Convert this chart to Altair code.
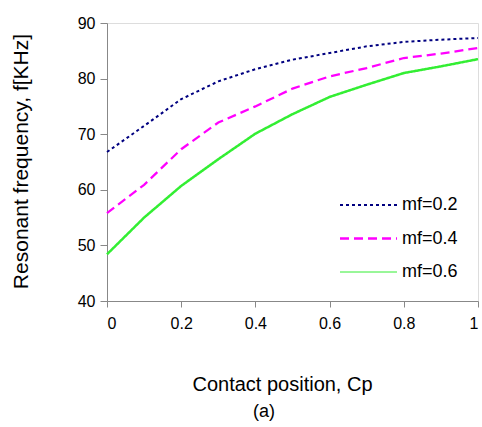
import altair as alt
import pandas as pd

# ---- data ----
cp = [0.0, 0.1, 0.2, 0.3, 0.4, 0.5, 0.6, 0.7, 0.8, 0.9, 1.0]
mf02 = [66.8, 71.5, 76.3, 79.5, 81.7, 83.4, 84.6, 85.8, 86.6, 87.0, 87.3]
mf04 = [55.8, 60.9, 67.3, 72.1, 75.0, 78.2, 80.4, 81.9, 83.7, 84.5, 85.5]
mf06 = [48.4, 55.0, 60.7, 65.5, 70.1, 73.6, 76.7, 78.9, 81.0, 82.2, 83.5]
series_names = ["mf=0.2", "mf=0.4", "mf=0.6"]
x_ticks = [0, 0.2, 0.4, 0.6, 0.8, 1]
y_ticks = [40, 50, 60, 70, 80, 90]

colors = ["#000080", "#FF00FF", "#33EE33"]
dashes = [[3, 3], [9, 5], [1, 0]]
widths = [2, 2.5, 1]

rows = []
for name, vals in zip(series_names, [mf02, mf04, mf06]):
    for c, v in zip(cp, vals):
        rows.append({"Cp": c, "f": v, "series": name})
df = pd.DataFrame(rows)

FONT = "Liberation Sans"

lines = alt.Chart(df).mark_line().encode(
    x=alt.X("Cp:Q", scale=alt.Scale(domain=[0, 1], nice=False),
            axis=alt.Axis(values=x_ticks, format="~g", title="Contact position, Cp",
                          grid=False, tickSize=6, labelPadding=8, labelFontSize=16,
                          titleFontSize=20, titleFontWeight="normal",
                          titleX=175, titleY=83, titleBaseline="middle", titleAlign="center")),
    y=alt.Y("f:Q", scale=alt.Scale(domain=[40, 90], nice=False),
            axis=alt.Axis(values=y_ticks, title="Resonant frequency, f[KHz]",
                          grid=False, tickSize=7, labelPadding=5, labelFontSize=16,
                          titleFontSize=21, titleFontWeight="normal",
                          titleX=-86, titleY=138, titleBaseline="middle",
                          titleAlign="center", titleAngle=270)),
    color=alt.Color("series:N", scale=alt.Scale(domain=series_names, range=colors), legend=None),
    strokeDash=alt.StrokeDash("series:N", scale=alt.Scale(domain=series_names, range=dashes), legend=None),
    strokeWidth=alt.StrokeWidth("series:N", scale=alt.Scale(domain=series_names, range=widths), legend=None),
)

layers = [lines]
for i, name in enumerate(series_names):
    ldf = pd.DataFrame({"s": [name]})
    y = 182 + 33.5 * i
    layers.append(
        alt.Chart(ldf).mark_rule(color=colors[i], strokeDash=dashes[i], strokeWidth=widths[i]).encode(
            x=alt.value(233), x2=alt.value(290), y=alt.value(y))
    )
    layers.append(
        alt.Chart(ldf).mark_text(align="left", baseline="middle", fontSize=18, font=FONT, color="black").encode(
            x=alt.value(295), y=alt.value(y), text="s:N")
    )

caption = alt.Chart(pd.DataFrame({"t": ["(a)"]})).mark_text(
    align="center", baseline="middle", fontSize=18, font=FONT, color="black"
).encode(x=alt.value(157), y=alt.value(389), text="t:N")
layers.append(caption)

chart = alt.layer(*layers).properties(
    width=371, height=278,
    autosize=alt.AutoSizeParams(type="none"),
    padding={"left": 107, "top": 23, "right": 4, "bottom": 126},
).configure_view(stroke=None).configure_axis(
    domainColor="black", tickColor="black", labelColor="black", titleColor="black",
    labelFont=FONT, titleFont=FONT, domainWidth=1, tickWidth=1,
).configure(background="white")

chart.save("out.html", embed_options={"renderer": "svg", "actions": False})
